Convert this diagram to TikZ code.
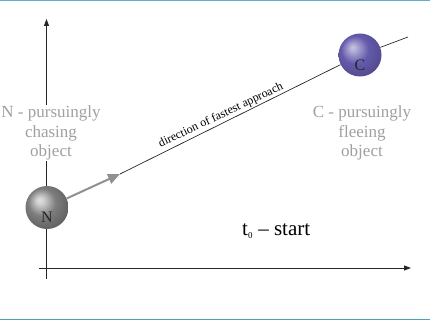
\documentclass[tikz,border=0pt]{standalone}
\usepackage{fontspec}
\setmainfont{Liberation Serif}
\usetikzlibrary{arrows.meta}
\definecolor{frameblue}{RGB}{95,175,200}
\definecolor{frameteal}{RGB}{70,165,175}
\definecolor{labgrey}{RGB}{160,160,160}
\definecolor{ballN}{RGB}{125,125,125}
\definecolor{ballC}{RGB}{100,90,172}
\pgfdeclareradialshading{nballsh}{\pgfqpoint{-9bp}{9bp}}{color(0bp)=(ballN!25!white); color(4bp)=(ballN!35!white); color(16bp)=(ballN); color(28bp)=(ballN!80!black); color(38bp)=(ballN!60!black); color(50bp)=(ballN!60!black)}
\pgfdeclareradialshading{cballsh}{\pgfqpoint{-9bp}{9bp}}{color(0bp)=(ballC!35!white); color(4bp)=(ballC!50!white); color(16bp)=(ballC); color(28bp)=(ballC!85!black); color(38bp)=(ballC!65!black); color(50bp)=(ballC!65!black)}
\tikzset{
  axis/.style={line width=0.9pt, draw=black!85, -{Triangle[length=7pt,width=5pt]}},
  ballstyle/.style={circle, minimum size=43pt, inner sep=0pt},
  balltext/.style={font=\fontsize{16}{16}\selectfont, text=black!85},
  sidelabel/.style={font=\fontsize{17}{19.5}\selectfont, text=labgrey, align=center, fill=white, inner sep=1pt},
}
\begin{document}
\begin{tikzpicture}[x=1pt,y=-1pt]
\useasboundingbox (0,0) rectangle (430,320);
\draw[frameblue, line width=1.5pt] (0,0.75) -- (430,0.75);
\draw[frameteal, line width=1.5pt] (0,319.25) -- (430,319.25);
% axes
\coordinate (vb) at (46.5,279);
\coordinate (vt) at (46.5,19);
\coordinate (hl) at (39,268);
\coordinate (hr) at (411,268);
\draw[axis] (vb) -- (vt);
\draw[axis] (hl) -- (hr);
% balls
\node[ballstyle, shading=nballsh] (N) at (47,207.5) {};
\node[ballstyle, shading=cballsh] (C) at (360,55) {};
\node[balltext] (Nt) at (47,217) {N};
\node[balltext] (Ct) at (360,65) {C};
% direction line
\coordinate (tip) at (120,174);
\coordinate (lend) at (408,37);
\draw[black!85, line width=0.7pt] (tip) -- (C);
\draw[black!85, line width=0.7pt] (C) -- (lend);
\draw[labgrey!90!black, line width=2pt, -{Triangle[length=12pt,width=10pt]}] (N) -- (tip);
\node[font=\fontsize{12}{12}\selectfont, rotate=25.3, anchor=south, inner sep=1.5pt] (dir) at (224,122) {direction of fastest approach};
% labels
\node[sidelabel] (Nl) at (51,133) {N - pursuingly\\chasing\\object};
\node[sidelabel] (Cl) at (362,133) {C - pursuingly\\fleeing\\object};
\node[font=\fontsize{21}{21}\selectfont, anchor=base west, inner sep=0pt] (t0) at (242,235) {t\textsubscript{\fontsize{9}{9}\selectfont 0} -- start};
\end{tikzpicture}
\end{document}
